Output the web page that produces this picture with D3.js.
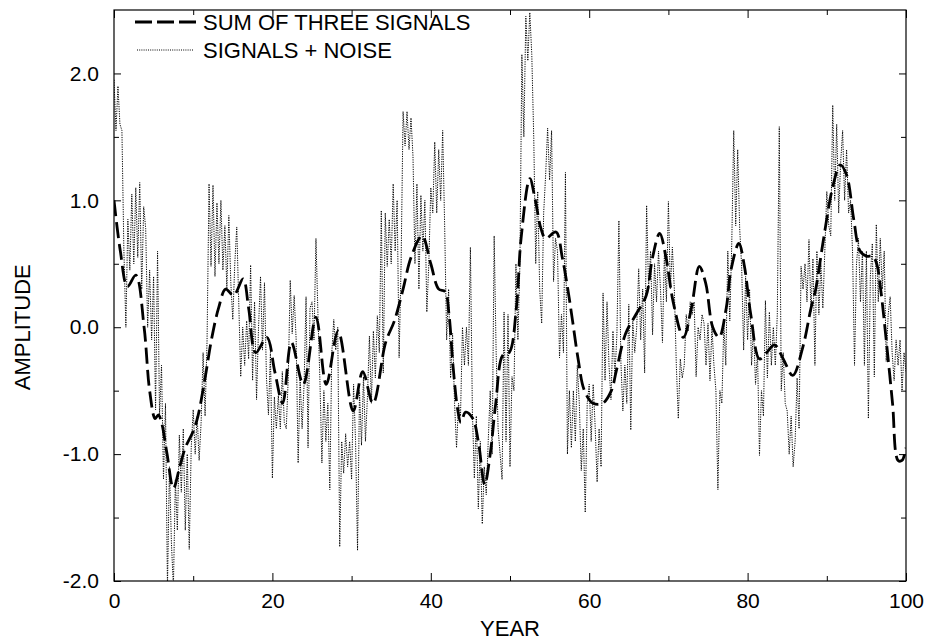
<!DOCTYPE html>
<html>
<head>
<meta charset="utf-8">
<script src="https://cdn.jsdelivr.net/npm/d3@7"></script>
<style>
  html, body { margin: 0; padding: 0; background: #fff; }
  svg { display: block; }
  text { font-family: "Liberation Sans", Arial, Helvetica, sans-serif; fill: #000; }
</style>
</head>
<body>
<svg id="chart" width="927" height="643"></svg>
<script>
// ---------------- DATA ----------------
const xTicks = [0, 20, 40, 60, 80, 100];
const xMinorTicks = [10, 30, 50, 70, 90];
const yTicks = [-2.0, -1.0, 0.0, 1.0, 2.0];
const yMinorTicks = [-1.5, -0.5, 0.5, 1.5];
const xLabel = "YEAR";
const yLabel = "AMPLITUDE";
const seriesNames = ["SUM OF THREE SIGNALS", "SIGNALS + NOISE"];

// smooth "sum of three signals" curve (year, amplitude)
const sumYears = [0, 0.8, 1.7, 2.75, 3.8, 4.5, 5.2, 5.6, 6.0, 6.7, 7.5, 8.3, 9.0, 10.0, 10.6, 11.5, 12.3, 13.2, 14.1, 15.1,
  16.3, 17.0, 17.9, 19.3, 20.3, 21.3, 22.4, 23.9, 25.5, 26.8, 28.3, 30.2, 31.4, 32.7, 34.3, 35.4, 36.5, 37.5, 38.9, 40.0,
  41.0, 41.8, 42.3, 42.8, 43.4, 43.8, 44.4, 45.3, 46.0, 46.8, 47.5, 48.2, 49.1, 49.9, 50.8, 51.4, 52.5, 53.2, 53.9, 54.5,
  55.8, 56.6, 57.3, 57.9, 58.6, 59.4, 60.5, 61.7, 62.8, 63.4, 64.6, 65.9, 67.2, 68.0, 68.9, 69.7, 70.6, 71.9, 72.9, 73.9,
  74.7, 75.6, 76.4, 77.3, 77.9, 78.9, 79.6, 80.4, 81.5, 82.4, 83.4, 84.5, 85.7, 87.0, 88.0, 88.6, 89.6, 90.8, 91.7, 92.5,
  93.4, 94.2, 95.0, 95.8, 96.3, 96.8, 97.5, 98.3, 99.0, 99.5, 100];
const sumValues = [1.0, 0.6, 0.32, 0.41, 0.0, -0.5, -0.72, -0.69, -0.75, -1.0, -1.27, -1.1, -0.95, -0.82, -0.7, -0.4, -0.1, 0.15, 0.3, 0.25,
  0.38, 0.15, -0.2, -0.08, -0.35, -0.6, -0.12, -0.45, 0.08, -0.45, -0.03, -0.66, -0.35, -0.6, -0.12, 0.05, 0.3, 0.55, 0.72, 0.5,
  0.3, 0.28, 0.1, -0.3, -0.65, -0.75, -0.67, -0.72, -0.9, -1.24, -1.0, -0.6, -0.22, -0.2, 0.15, 0.7, 1.17, 1.0, 0.78, 0.7,
  0.75, 0.55, 0.3, 0.05, -0.25, -0.5, -0.6, -0.6, -0.5, -0.35, -0.05, 0.1, 0.25, 0.55, 0.74, 0.55, 0.2, -0.08, 0.15, 0.48,
  0.35, 0.0, -0.08, 0.15, 0.45, 0.66, 0.48, 0.1, -0.25, -0.2, -0.14, -0.25, -0.38, -0.15, 0.15, 0.3, 0.7, 1.12, 1.28, 1.2,
  0.85, 0.6, 0.56, 0.56, 0.5, 0.3, -0.1, -0.6, -1.05, -1.05, -0.95];

// "signals + noise" series, quarterly samples from year 0 to 100
const noiseYears = d3.range(0, 100.001, 0.25);
const noiseValues = [
  1.95, 1.55, 1.9, 1.6,   1.55, 0.6, 0.0, 0.85,   0.45, 1.05, 0.5, 1.1,   0.55, 1.14, 0.3, 0.95,
  0.78, 0.0, 0.45, -0.1,  0.4, -0.65, 0.6, -0.7,  -0.3, -1.2, -0.6, -2.05, -1.1, -1.7, -2.05, -1.2,
  -1.6, -0.85, -1.3, -0.8, -1.6, -1.0, -1.75, -0.95, -0.65, -1.0, -0.7, -1.05, -0.75, -0.2, -0.7, -0.1,
  1.13, 0.48, 1.12, 0.4,  0.98, 0.5, 1.0, 0.45,   0.8, 0.3, 0.88, 0.35,   0.06, 0.5, 0.79, 0.2,
  -0.39, 0.0, -0.3, 0.05, -0.25, 0.49, -0.42, 0.2, -0.57, 0.0, 0.4, -0.18, 0.35, -0.4, -0.69, -0.2,
  -1.19, -0.55, -0.8, -0.54, -0.8, -0.35, -0.75, -0.8, -0.4, 0.37, -0.05, 0.25, -0.1, -1.07, -0.4, -0.8,
  -0.45, 0.24, -0.95, 0.15, 0.2, -0.1, 0.7, 0.1,  -0.42, -1.07, -0.5, -0.9, -0.6, -1.28, -0.2, 0.06,
  -0.18, 0.0, -1.73, -0.9, -1.15, -0.84, -1.1, -0.9, -1.2, -0.45, -0.9, -1.76, -0.5, -0.93, -0.39, -0.9,
  -0.55, -0.07, -0.6, -0.03, -0.4, 0.09, -0.2, 0.92, -0.36, 0.9, 0.48, 0.85, 0.5, 1.13, 0.6, 1.0,
  -0.24, 0.5, 1.7, 1.43,  1.7, 1.4, 1.65, 1.35,   0.5, 1.13, 0.3, 1.04,   0.6, 1.0, 0.12, 0.5,
  1.1, 0.9, 1.46, 0.9,    1.4, 1.0, 1.55, 0.8,    -0.1, 0.3, -0.4, -0.05, -0.6, -0.95, -0.6, -0.7,
  0.0, -0.3, 0.0, -0.3,   0.63, -0.66, -1.19, -0.7, -1.43, -0.9, -1.55, -1.1, -1.32, -0.9, -0.5, -1.0,
  0.72, -0.2, -0.8, -1.0, -1.2, 0.12, -0.9, 0.1,  -1.1, -0.39, -0.5, 0.5,  -0.1, 0.5, 2.15, 1.5,
  2.45, 2.1, 2.48, 2.15,  1.49, 0.5, 1.07, 0.3,   0.03, 0.9, 1.2, 1.57,   1.16, 1.55, 0.36, 0.7,
  0.6, -0.24, 0.1, -0.2,  1.22, -1.0, -0.5, -0.95, -0.5, -0.9, -0.3, -0.6, -1.13, -0.8, -1.46, -0.6,
  -0.45, -0.9, -0.45, -0.78, -1.22, -0.8, -1.1, 0.27, -0.42, 0.2, -0.3, -0.57, -0.03, -0.39, -0.05, 0.84,
  -0.27, -0.66, -0.3, -0.6, 0.18, -0.81, 0.05, -0.2, 0.0, 0.46, -0.1, 0.3, -0.36, 0.96, 0.3, 0.6,
  -0.06, 0.5, 0.2, 0.6,   0.3, -0.12, 0.6, 0.2,   0.99, 0.3, 0.63, 0.3,   -0.3, -0.72, -0.25, -0.4,
  -0.3, 0.1, -0.03, 0.2,  0.1, 0.2, -0.39, 0.0,   -0.1, 0.1, 0.03, -0.3,  0.03, -0.42, 0.0, -0.3,
  -0.5, -1.28, -0.5, -0.6, 0.03, -0.3, 0.6, 0.05, 0.66, 1.55, 0.8, 1.4,   0.78, 0.48, -0.18, 0.4,
  -0.1, 0.3, -0.3, 0.0,   -0.45, -0.2, -1.01, -0.5, -0.7, 0.21, -0.4, 0.12, -0.3, 0.0, -0.3, 0.1,
  1.58, -0.5, -0.2, -0.6, -0.66, -1.0, -0.7, -1.1, -0.9, -0.4, -0.8, 0.48, 0.3, 0.5, 0.2, 0.69,
  0.12, 0.54, -0.3, 0.6,  0.1, 0.5, 0.15, 0.6,    1.07, 0.8, 0.72, 1.75,  1.0, 1.6, 0.9, 1.3,
  1.55, 1.0, 1.4, 0.9,    1.0, 0.6, -0.3, 0.5,    0.7, 0.2, 0.6, -0.3,    0.6, -0.72, 0.4, 0.66,
  -0.39, 0.81, 0.2, 0.7,  0.3, 0.6, -0.27, 0.1,   0.24, -0.2, -0.42, -0.1, -0.3, -0.1, -0.5, -0.2,
  -0.35
];

// ---------------- CHART ----------------
const svg = d3.select("#chart");
const mLeft = 114, mRight = 906, mTop = 10, mBottom = 581;
const x = d3.scaleLinear().domain([0, 100]).range([mLeft, mRight]);
const y = d3.scaleLinear().domain([-2, 2.5]).range([mBottom, mTop]);
const FONT = 21;
const TITLE_FONT = 22;

svg.append("defs").append("clipPath").attr("id", "clip")
  .append("rect").attr("x", mLeft).attr("y", mTop).attr("width", mRight - mLeft).attr("height", mBottom - mTop);

// noise line
const noiseData = noiseYears.map((t, i) => [t, noiseValues[i]]);
svg.append("path")
  .datum(noiseData)
  .attr("clip-path", "url(#clip)")
  .attr("fill", "none")
  .attr("stroke", "#000")
  .attr("stroke-width", 1)
  .attr("stroke-dasharray", "1.2,1.2")
  .attr("d", d3.line().x(d => x(d[0])).y(d => y(d[1])));

// smooth sum line
const sumData = sumYears.map((t, i) => [t, sumValues[i]]);
svg.append("path")
  .datum(sumData)
  .attr("clip-path", "url(#clip)")
  .attr("fill", "none")
  .attr("stroke", "#000")
  .attr("stroke-width", 2.8)
  .attr("stroke-dasharray", "16,6")
  .attr("d", d3.line().curve(d3.curveCatmullRom.alpha(0.5)).x(d => x(d[0])).y(d => y(d[1])));

// axes with inward ticks
function axisGroup(axis, tx, ty) {
  const g = svg.append("g").attr("transform", `translate(${tx},${ty})`).call(axis);
  g.select(".domain").remove();
  g.selectAll("line").attr("stroke", "#000").attr("stroke-width", 1);
  g.selectAll("text").style("font-size", FONT + "px").style("font-family", '"Liberation Sans", Arial, sans-serif');
  return g;
}
const fmtY = d => d3.format(".1f")(d).replace("\u2212", "-");
// bottom
axisGroup(d3.axisBottom(x).tickValues(xTicks).tickSize(-8).tickPadding(12).tickFormat(d3.format("d")), 0, mBottom);
axisGroup(d3.axisBottom(x).tickValues(xMinorTicks).tickSize(-5).tickFormat(""), 0, mBottom);
// top
axisGroup(d3.axisTop(x).tickValues(xTicks).tickSize(-8).tickFormat(""), 0, mTop);
axisGroup(d3.axisTop(x).tickValues(xMinorTicks).tickSize(-5).tickFormat(""), 0, mTop);
// left
axisGroup(d3.axisLeft(y).tickValues(yTicks).tickSize(-7).tickPadding(15).tickFormat(fmtY), mLeft, 0);
axisGroup(d3.axisLeft(y).tickValues(yMinorTicks).tickSize(-5).tickFormat(""), mLeft, 0);
// right
axisGroup(d3.axisRight(y).tickValues(yTicks).tickSize(-7).tickFormat(""), mRight, 0);
axisGroup(d3.axisRight(y).tickValues(yMinorTicks).tickSize(-5).tickFormat(""), mRight, 0);

// frame
svg.append("rect").attr("x", mLeft).attr("y", mTop).attr("width", mRight - mLeft).attr("height", mBottom - mTop)
  .attr("fill", "none").attr("stroke", "#000").attr("stroke-width", 1.2);

// axis titles
svg.append("text").attr("x", (mLeft + mRight) / 2).attr("y", 636).attr("text-anchor", "middle")
  .style("font-size", TITLE_FONT + "px").text(xLabel);
svg.append("text").attr("transform", `translate(30,${y(0)}) rotate(-90)`).attr("text-anchor", "middle")
  .style("font-size", TITLE_FONT + "px").text(yLabel);

// legend
const legend = svg.append("g");
legend.append("line").attr("x1", 135).attr("x2", 197).attr("y1", 22).attr("y2", 22)
  .attr("stroke", "#000").attr("stroke-width", 2.8).attr("stroke-dasharray", "17,5");
legend.append("text").attr("x", 203).attr("y", 30).style("font-size", TITLE_FONT + "px").text(seriesNames[0]);
legend.append("line").attr("x1", 137).attr("x2", 193).attr("y1", 50).attr("y2", 50)
  .attr("stroke", "#000").attr("stroke-width", 1).attr("stroke-dasharray", "1,1.2");
legend.append("text").attr("x", 203).attr("y", 58).style("font-size", TITLE_FONT + "px").text(seriesNames[1]);
</script>
</body>
</html>
